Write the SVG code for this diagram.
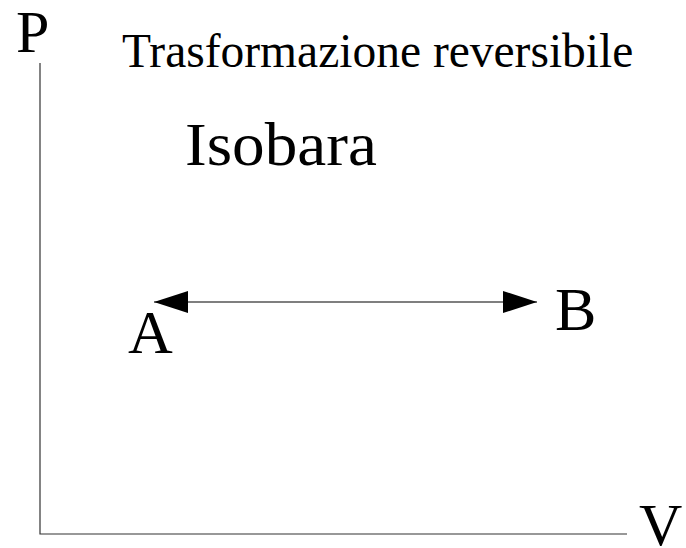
<svg xmlns="http://www.w3.org/2000/svg" width="686" height="548" viewBox="0 0 686 548">
<defs>
<marker id="ah" viewBox="0 0 34 22" refX="34" refY="11" markerWidth="34" markerHeight="22" markerUnits="userSpaceOnUse" orient="auto-start-reverse">
<path d="M0,0 L34,11 L0,22 Z" fill="#000"/>
</marker>
</defs>
<rect width="686" height="548" fill="#fff"/>
<g id="axes">
<path d="M40,63 V534 H627" stroke="#333" stroke-width="1.2" fill="none"/>
<text x="16" y="52" style="font-family:'Liberation Serif',serif;font-size:60px">P</text>
<text x="639" y="545" style="font-family:'Liberation Serif',serif;font-size:60px">V</text>
</g>
<g id="title">
<text x="122" y="67" style="font-family:'Liberation Serif',serif;font-size:47.5px">Trasformazione reversibile</text>
<text x="185" y="165" style="font-family:'Liberation Serif',serif;font-size:62px" textLength="192" lengthAdjust="spacingAndGlyphs">Isobara</text>
</g>
<g id="A"><text x="128" y="353" style="font-family:'Liberation Serif',serif;font-size:62px">A</text></g>
<g id="B"><text x="555" y="330" style="font-family:'Liberation Serif',serif;font-size:62px">B</text></g>
<g id="connectors">
<line x1="154" y1="302" x2="537" y2="302" stroke="#000" stroke-width="1.2" marker-start="url(#ah)" marker-end="url(#ah)"/>
</g>
</svg>
